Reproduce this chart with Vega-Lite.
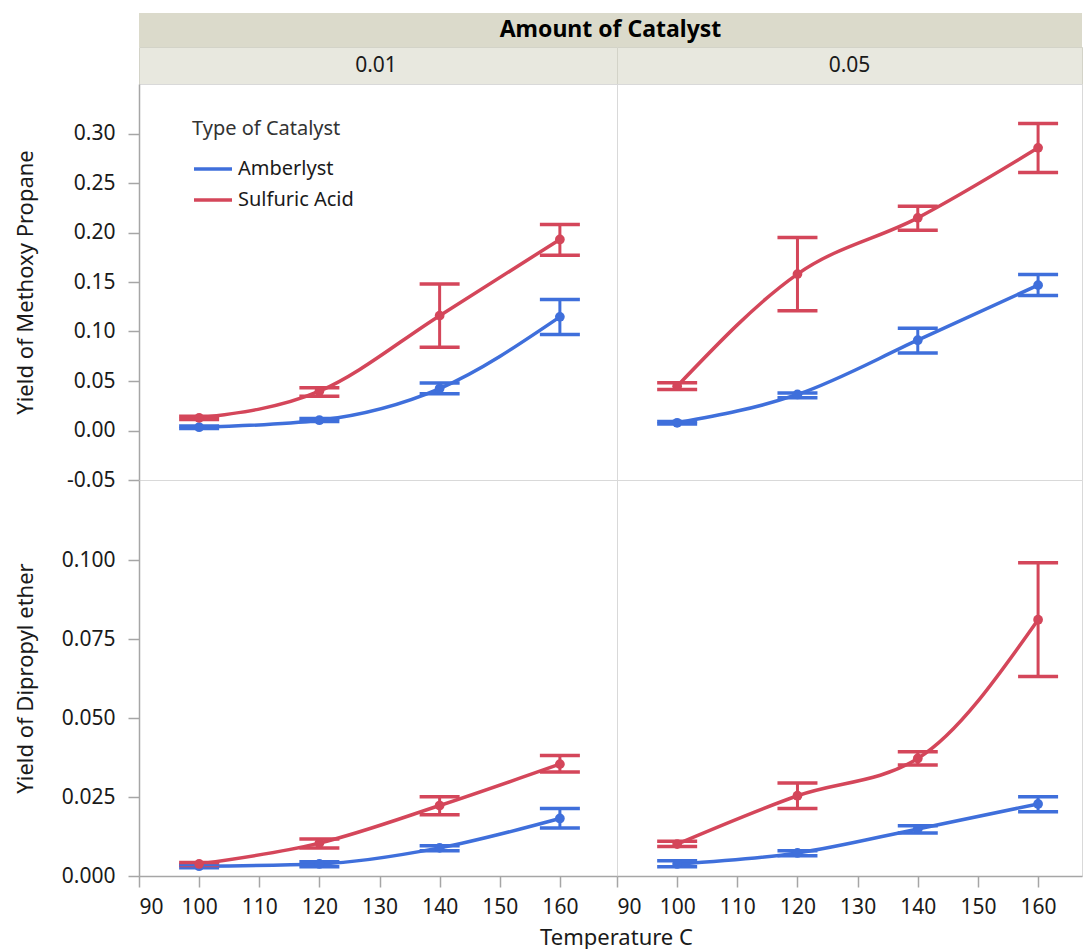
{
  "$schema": "https://vega.github.io/schema/vega-lite/v6.json",
  "padding": {"left": 13, "top": 13, "right": 0, "bottom": 0},
  "bounds": "flush",
  "spacing": 0,
  "columns": 2,
  "align": "each",
  "datasets": {
    "d": [
      {"amount": "0.01", "resp": "mp", "cat": "Amberlyst", "temp": 100, "mean": 0.0033, "lo": 0.0020, "hi": 0.0045},
      {"amount": "0.01", "resp": "mp", "cat": "Amberlyst", "temp": 120, "mean": 0.0104, "lo": 0.0090, "hi": 0.0120},
      {"amount": "0.01", "resp": "mp", "cat": "Amberlyst", "temp": 140, "mean": 0.0424, "lo": 0.0370, "hi": 0.0480},
      {"amount": "0.01", "resp": "mp", "cat": "Amberlyst", "temp": 160, "mean": 0.1148, "lo": 0.0970, "hi": 0.1323},
      {"amount": "0.01", "resp": "mp", "cat": "Sulfuric Acid", "temp": 100, "mean": 0.0128, "lo": 0.0110, "hi": 0.0145},
      {"amount": "0.01", "resp": "mp", "cat": "Sulfuric Acid", "temp": 120, "mean": 0.0397, "lo": 0.0347, "hi": 0.0431},
      {"amount": "0.01", "resp": "mp", "cat": "Sulfuric Acid", "temp": 140, "mean": 0.1160, "lo": 0.0840, "hi": 0.1480},
      {"amount": "0.01", "resp": "mp", "cat": "Sulfuric Acid", "temp": 160, "mean": 0.1930, "lo": 0.1770, "hi": 0.2080},
      {"amount": "0.05", "resp": "mp", "cat": "Amberlyst", "temp": 100, "mean": 0.0078, "lo": 0.0065, "hi": 0.0090},
      {"amount": "0.05", "resp": "mp", "cat": "Amberlyst", "temp": 120, "mean": 0.0364, "lo": 0.0330, "hi": 0.0380},
      {"amount": "0.05", "resp": "mp", "cat": "Amberlyst", "temp": 140, "mean": 0.0912, "lo": 0.0784, "hi": 0.1034},
      {"amount": "0.05", "resp": "mp", "cat": "Amberlyst", "temp": 160, "mean": 0.1468, "lo": 0.1364, "hi": 0.1576},
      {"amount": "0.05", "resp": "mp", "cat": "Sulfuric Acid", "temp": 100, "mean": 0.0448, "lo": 0.0414, "hi": 0.0482},
      {"amount": "0.05", "resp": "mp", "cat": "Sulfuric Acid", "temp": 120, "mean": 0.1580, "lo": 0.1210, "hi": 0.1950},
      {"amount": "0.05", "resp": "mp", "cat": "Sulfuric Acid", "temp": 140, "mean": 0.2148, "lo": 0.2023, "hi": 0.2266},
      {"amount": "0.05", "resp": "mp", "cat": "Sulfuric Acid", "temp": 160, "mean": 0.2855, "lo": 0.2606, "hi": 0.3100},
      {"amount": "0.01", "resp": "dpe", "cat": "Amberlyst", "temp": 100, "mean": 0.0031, "lo": 0.0026, "hi": 0.0036},
      {"amount": "0.01", "resp": "dpe", "cat": "Amberlyst", "temp": 120, "mean": 0.0038, "lo": 0.0029, "hi": 0.0045},
      {"amount": "0.01", "resp": "dpe", "cat": "Amberlyst", "temp": 140, "mean": 0.0089, "lo": 0.0080, "hi": 0.0096},
      {"amount": "0.01", "resp": "dpe", "cat": "Amberlyst", "temp": 160, "mean": 0.0182, "lo": 0.0152, "hi": 0.0214},
      {"amount": "0.01", "resp": "dpe", "cat": "Sulfuric Acid", "temp": 100, "mean": 0.0038, "lo": 0.0033, "hi": 0.0043},
      {"amount": "0.01", "resp": "dpe", "cat": "Sulfuric Acid", "temp": 120, "mean": 0.0104, "lo": 0.0089, "hi": 0.0117},
      {"amount": "0.01", "resp": "dpe", "cat": "Sulfuric Acid", "temp": 140, "mean": 0.0223, "lo": 0.0194, "hi": 0.0251},
      {"amount": "0.01", "resp": "dpe", "cat": "Sulfuric Acid", "temp": 160, "mean": 0.0354, "lo": 0.0329, "hi": 0.0381},
      {"amount": "0.05", "resp": "dpe", "cat": "Amberlyst", "temp": 100, "mean": 0.0038, "lo": 0.0029, "hi": 0.0048},
      {"amount": "0.05", "resp": "dpe", "cat": "Amberlyst", "temp": 120, "mean": 0.0073, "lo": 0.0064, "hi": 0.0080},
      {"amount": "0.05", "resp": "dpe", "cat": "Amberlyst", "temp": 140, "mean": 0.0149, "lo": 0.0136, "hi": 0.0159},
      {"amount": "0.05", "resp": "dpe", "cat": "Amberlyst", "temp": 160, "mean": 0.0228, "lo": 0.0203, "hi": 0.0251},
      {"amount": "0.05", "resp": "dpe", "cat": "Sulfuric Acid", "temp": 100, "mean": 0.0101, "lo": 0.0093, "hi": 0.0110},
      {"amount": "0.05", "resp": "dpe", "cat": "Sulfuric Acid", "temp": 120, "mean": 0.0254, "lo": 0.0214, "hi": 0.0294},
      {"amount": "0.05", "resp": "dpe", "cat": "Sulfuric Acid", "temp": 140, "mean": 0.0372, "lo": 0.0351, "hi": 0.0393},
      {"amount": "0.05", "resp": "dpe", "cat": "Sulfuric Acid", "temp": 160, "mean": 0.0811, "lo": 0.0631, "hi": 0.0991}
    ]
  },
  "config": {
    "font": "Noto Sans",
    "view": {"stroke": "#d9d9d9"},
    "axis": {
      "grid": false,
      "labelFontSize": 21,
      "titleFontSize": 22,
      "titleFontWeight": "normal",
      "labelColor": "#1a1a1a",
      "titleColor": "#1a1a1a",
      "domainColor": "#a6a6a6",
      "tickColor": "#a6a6a6",
      "domainWidth": 1.5,
      "tickWidth": 1.5,
      "tickSize": 11,
      "labelPadding": 4
    },
    "legend": {
      "orient": "none",
      "legendX": 53,
      "legendY": 106,
      "titleFontSize": 20,
      "titleFontWeight": "normal",
      "titleColor": "#333333",
      "labelFontSize": 20,
      "labelColor": "#1a1a1a",
      "symbolType": "stroke",
      "symbolStrokeWidth": 3.5,
      "symbolSize": 1444,
      "rowPadding": -7,
      "titlePadding": 9,
      "labelOffset": 4
    }
  },
  "concat": [
    {
      "width": 478,
      "height": 34,
      "view": {"fill": "#dbdacb", "stroke": null},
      "data": {"values": [{"t": ""}]},
      "mark": {"type": "text"},
      "encoding": {"text": {"field": "t"}}
    },
    {
      "width": 465,
      "height": 34,
      "view": {"fill": "#dbdacb", "stroke": null},
      "data": {"values": [{"t": "Amount of Catalyst"}]},
      "mark": {"type": "text", "fontWeight": "bold", "fontSize": 23, "color": "#000000", "dx": -239},
      "encoding": {"text": {"field": "t"}}
    },
    {
      "width": 478,
      "height": 37,
      "view": {"fill": "#e8e8df", "stroke": "#d3d3c8"},
      "data": {"values": [{"a": "0.01"}]},
      "mark": {"type": "text", "fontSize": 21, "color": "#1a1a1a", "dx": -2},
      "encoding": {"text": {"field": "a"}}
    },
    {
      "width": 465,
      "height": 37,
      "view": {"fill": "#e8e8df", "stroke": "#d3d3c8"},
      "data": {"values": [{"a": "0.05"}]},
      "mark": {"type": "text", "fontSize": 21, "color": "#1a1a1a"},
      "encoding": {"text": {"field": "a"}}
    },
    {
      "width": 478,
      "height": 396,
      "data": {"name": "d"},
      "transform": [{"filter": "datum.amount == '0.01' && datum.resp == 'mp'"}],
      "encoding": {
        "x": {"field": "temp", "type": "quantitative", "scale": {"domain": [90, 169.5], "nice": false, "zero": false}, "axis": null},
        "color": {"field": "cat", "type": "nominal", "scale": {"domain": ["Amberlyst", "Sulfuric Acid"], "range": ["#3f6fdb", "#d4465a"]}, "legend": {"title": "Type of Catalyst"}}
      },
      "layer": [
        {"mark": {"type": "line", "interpolate": "monotone", "strokeWidth": 3.5},
         "encoding": {"y": {"field": "mean", "type": "quantitative", "title": "Yield of Methoxy Propane",
           "scale": {"domain": [-0.05, 0.35], "nice": false, "zero": false},
           "axis": {"values": [-0.05, 0, 0.05, 0.1, 0.15, 0.2, 0.25, 0.3], "labelExpr": "replace(format(datum.value, '.2f'), '\u2212', '-')", "titleX": -114, "titleBaseline": "middle", "labelPadding": 13}}}},
        {"mark": {"type": "rule", "strokeWidth": 3}, "encoding": {"y": {"field": "lo", "type": "quantitative"}, "y2": {"field": "hi"}}},
        {"mark": {"type": "tick", "orient": "horizontal", "size": 40, "thickness": 3.5, "opacity": 1}, "encoding": {"y": {"field": "lo", "type": "quantitative"}}},
        {"mark": {"type": "tick", "orient": "horizontal", "size": 40, "thickness": 3.5, "opacity": 1}, "encoding": {"y": {"field": "hi", "type": "quantitative"}}},
        {"mark": {"type": "circle", "size": 95, "opacity": 1}, "encoding": {"y": {"field": "mean", "type": "quantitative"}}}
      ]
    },
    {
      "width": 465,
      "height": 396,
      "data": {"name": "d"},
      "transform": [{"filter": "datum.amount == '0.05' && datum.resp == 'mp'"}],
      "encoding": {
        "x": {"field": "temp", "type": "quantitative", "scale": {"domain": [90, 167.3], "nice": false, "zero": false}, "axis": null},
        "color": {"field": "cat", "type": "nominal", "scale": {"domain": ["Amberlyst", "Sulfuric Acid"], "range": ["#3f6fdb", "#d4465a"]}, "legend": {"title": "Type of Catalyst"}}
      },
      "layer": [
        {"mark": {"type": "line", "interpolate": "monotone", "strokeWidth": 3.5},
         "encoding": {"y": {"field": "mean", "type": "quantitative", "scale": {"domain": [-0.05, 0.35], "nice": false, "zero": false}, "axis": null}}},
        {"mark": {"type": "rule", "strokeWidth": 3}, "encoding": {"y": {"field": "lo", "type": "quantitative"}, "y2": {"field": "hi"}}},
        {"mark": {"type": "tick", "orient": "horizontal", "size": 40, "thickness": 3.5, "opacity": 1}, "encoding": {"y": {"field": "lo", "type": "quantitative"}}},
        {"mark": {"type": "tick", "orient": "horizontal", "size": 40, "thickness": 3.5, "opacity": 1}, "encoding": {"y": {"field": "hi", "type": "quantitative"}}},
        {"mark": {"type": "circle", "size": 95, "opacity": 1}, "encoding": {"y": {"field": "mean", "type": "quantitative"}}}
      ]
    },
    {
      "width": 478,
      "height": 396,
      "data": {"name": "d"},
      "transform": [{"filter": "datum.amount == '0.01' && datum.resp == 'dpe'"}],
      "encoding": {
        "x": {"field": "temp", "type": "quantitative", "title": "Temperature C", "scale": {"domain": [90, 169.5], "nice": false, "zero": false},
          "axis": {"values": [90, 100, 110, 120, 130, 140, 150, 160], "labelPadding": 9, "titleX": 477, "titleY": 61, "titleBaseline": "middle", "titleFontSize": 22}},
        "color": {"field": "cat", "type": "nominal", "scale": {"domain": ["Amberlyst", "Sulfuric Acid"], "range": ["#3f6fdb", "#d4465a"]}, "legend": {"title": "Type of Catalyst"}}
      },
      "layer": [
        {"mark": {"type": "line", "interpolate": "monotone", "strokeWidth": 3.5},
         "encoding": {"y": {"field": "mean", "type": "quantitative", "title": "Yield of Dipropyl ether",
           "scale": {"domain": [0, 0.12532], "nice": false, "zero": false},
           "axis": {"values": [0, 0.025, 0.05, 0.075, 0.1], "format": ".3f", "titleX": -114, "titleBaseline": "middle", "labelPadding": 13}}}},
        {"mark": {"type": "rule", "strokeWidth": 3}, "encoding": {"y": {"field": "lo", "type": "quantitative"}, "y2": {"field": "hi"}}},
        {"mark": {"type": "tick", "orient": "horizontal", "size": 40, "thickness": 3.5, "opacity": 1}, "encoding": {"y": {"field": "lo", "type": "quantitative"}}},
        {"mark": {"type": "tick", "orient": "horizontal", "size": 40, "thickness": 3.5, "opacity": 1}, "encoding": {"y": {"field": "hi", "type": "quantitative"}}},
        {"mark": {"type": "circle", "size": 95, "opacity": 1}, "encoding": {"y": {"field": "mean", "type": "quantitative"}}}
      ]
    },
    {
      "width": 465,
      "height": 396,
      "data": {"name": "d"},
      "transform": [{"filter": "datum.amount == '0.05' && datum.resp == 'dpe'"}],
      "encoding": {
        "x": {"field": "temp", "type": "quantitative", "title": null, "scale": {"domain": [90, 167.3], "nice": false, "zero": false},
          "axis": {"values": [90, 100, 110, 120, 130, 140, 150, 160], "labelPadding": 9}},
        "color": {"field": "cat", "type": "nominal", "scale": {"domain": ["Amberlyst", "Sulfuric Acid"], "range": ["#3f6fdb", "#d4465a"]}, "legend": {"title": "Type of Catalyst"}}
      },
      "layer": [
        {"mark": {"type": "line", "interpolate": "monotone", "strokeWidth": 3.5},
         "encoding": {"y": {"field": "mean", "type": "quantitative", "scale": {"domain": [0, 0.12532], "nice": false, "zero": false}, "axis": null}}},
        {"mark": {"type": "rule", "strokeWidth": 3}, "encoding": {"y": {"field": "lo", "type": "quantitative"}, "y2": {"field": "hi"}}},
        {"mark": {"type": "tick", "orient": "horizontal", "size": 40, "thickness": 3.5, "opacity": 1}, "encoding": {"y": {"field": "lo", "type": "quantitative"}}},
        {"mark": {"type": "tick", "orient": "horizontal", "size": 40, "thickness": 3.5, "opacity": 1}, "encoding": {"y": {"field": "hi", "type": "quantitative"}}},
        {"mark": {"type": "circle", "size": 95, "opacity": 1}, "encoding": {"y": {"field": "mean", "type": "quantitative"}}}
      ]
    }
  ]
}
